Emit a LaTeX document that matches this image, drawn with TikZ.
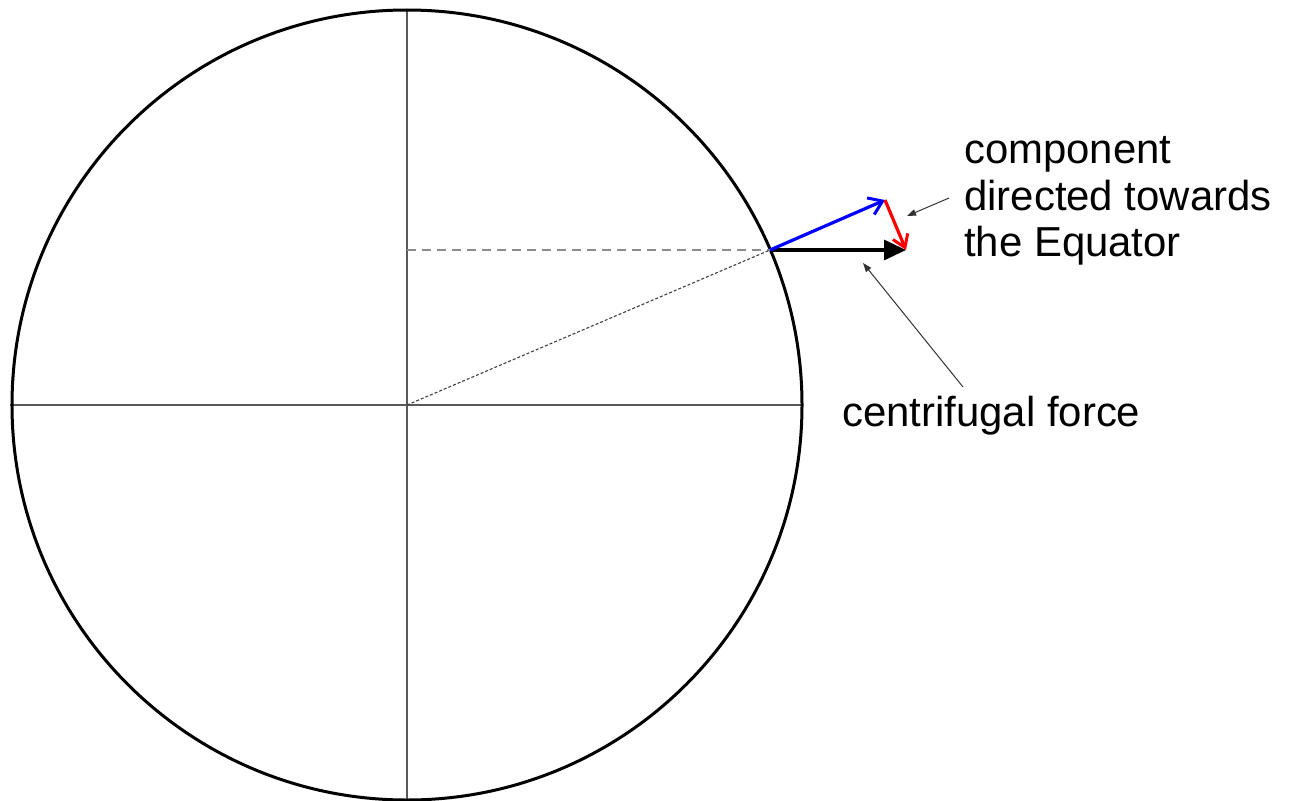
\documentclass[tikz,border=0pt]{standalone}
\usepackage{fontspec}
\setmainfont{Liberation Sans}
\usetikzlibrary{arrows.meta}
\begin{document}
\begin{tikzpicture}[x=1pt,y=-1pt,
  axis/.style={draw=black!65, line width=2pt},
  vec/.style={line width=3.2pt},
  pointer/.style={draw=black!80, line width=1pt, -{Triangle[length=9pt,width=6.5pt]}},
  lbl/.style={font=\fontsize{41.9}{46.5}\selectfont, inner sep=0pt, align=left}]
\useasboundingbox (0,0) rectangle (1289,800);
\coordinate (O) at (407,405);
\coordinate (P) at (770,250);
\coordinate (Pc) at (407,250);
\coordinate (T) at (10,405);
\coordinate (B) at (407,800);
\coordinate (Tp) at (407,10);
\coordinate (R) at (802,405);
\coordinate (Bt) at (885,200);
\coordinate (Ct) at (906,250);
% axes
\draw[axis] (Tp) -- (B);
\draw[axis] (T) -- (R);
% circle
\draw[black, line width=3pt] (O) circle[radius=395];
% construction lines
\draw[draw=black!45, line width=2pt, dash pattern=on 9pt off 6pt] (Pc) -- (P);
\draw[draw=black!75, line width=1.1pt, dash pattern=on 3pt off 2pt] (O) -- (P);
% vectors
\draw[vec, black, -{Triangle[length=22pt,width=20pt]}] (P) -- (Ct);
\draw[vec, blue, -{Straight Barb[length=13pt,width=18pt,line width=3pt]}] (P) -- (Bt);
\draw[vec, red, -{Straight Barb[length=12pt,width=16pt,line width=3pt]}] (Bt) -- (Ct);
% labels
\node[lbl, anchor=west] (comp) at (964,201) {component\\directed towards\\the Equator};
\node[lbl, anchor=west] (cf) at (842,416) {centrifugal force};
\coordinate (c1) at (949,198);
\coordinate (c2) at (907,216);
\coordinate (f1) at (963,387);
\coordinate (f2) at (863,263);
\draw[pointer] (c1) -- (c2);
\draw[pointer] (f1) -- (f2);
\end{tikzpicture}
\end{document}
